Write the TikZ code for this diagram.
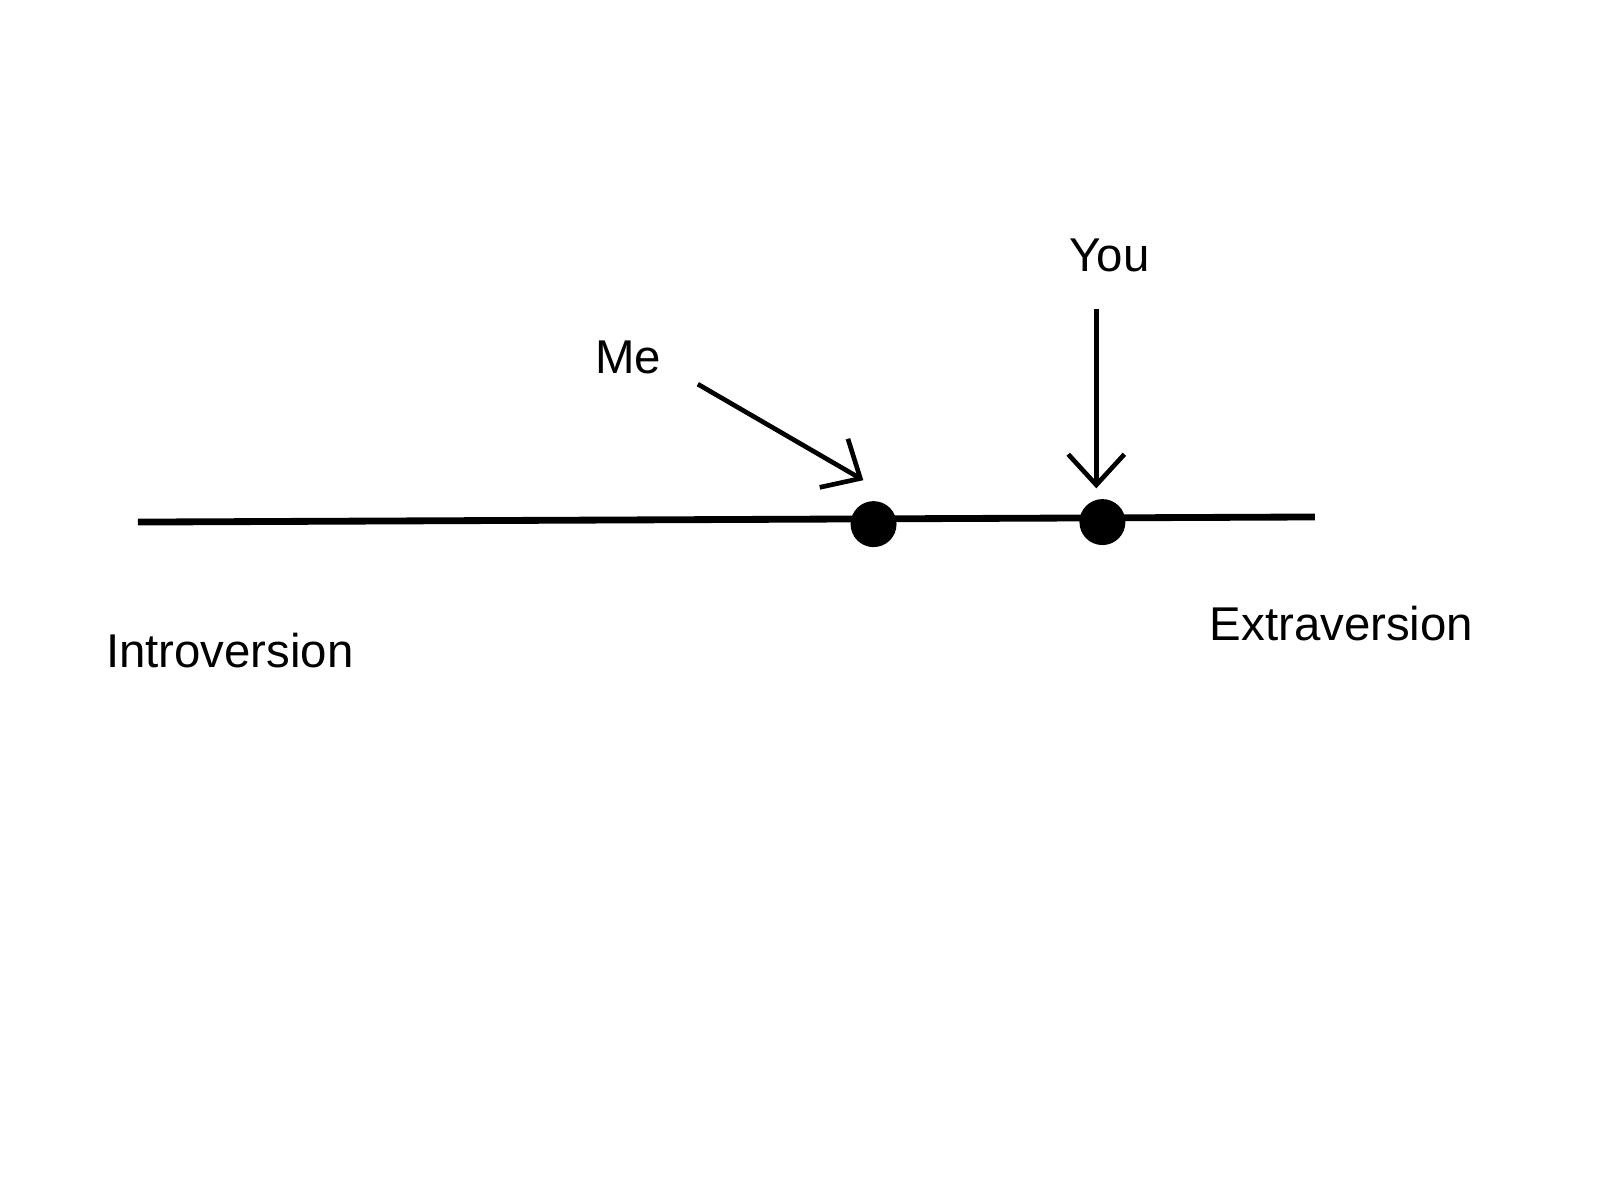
\documentclass[tikz,border=0pt]{standalone}
\usepackage{fontspec}
\setmainfont{Liberation Sans}
\usetikzlibrary{arrows.meta}
\tikzset{
  lbl/.style={font=\fontsize{13.2}{16}\selectfont},
  dot/.style={circle,fill=black,inner sep=0pt,minimum size=0.45cm},
  pointer/.style={line width=1.3pt,-{Straight Barb[length=0.3cm,width=0.55cm]}}
}
\begin{document}
\begin{tikzpicture}
  \useasboundingbox (0,0) rectangle (15.66,11.75);
  % axis
  \coordinate (left) at (1.35,6.64);
  \coordinate (right) at (12.87,6.69);
  \draw[line width=1.9pt] (left) -- (right);
  \node[dot] (me) at (8.55,6.62) {};
  \node[dot] (you) at (10.79,6.64) {};
  % labels
  \node[lbl] (intro) at (2.25,5.38) {Introversion};
  \node[lbl] (extra) at (13.13,5.65) {Extraversion};
  \node[lbl] (metext) at (6.15,8.25) {Me};
  \node[lbl] (youtext) at (10.86,9.25) {You};
  % pointers
  \coordinate (mestart) at (6.83,7.99);
  \coordinate (meend) at (8.45,7.05);
  \coordinate (youstart) at (10.73,8.73);
  \coordinate (youend) at (10.73,6.97);
  \draw[pointer] (mestart) -- (meend);
  \draw[pointer] (youstart) -- (youend);
\end{tikzpicture}
\end{document}
